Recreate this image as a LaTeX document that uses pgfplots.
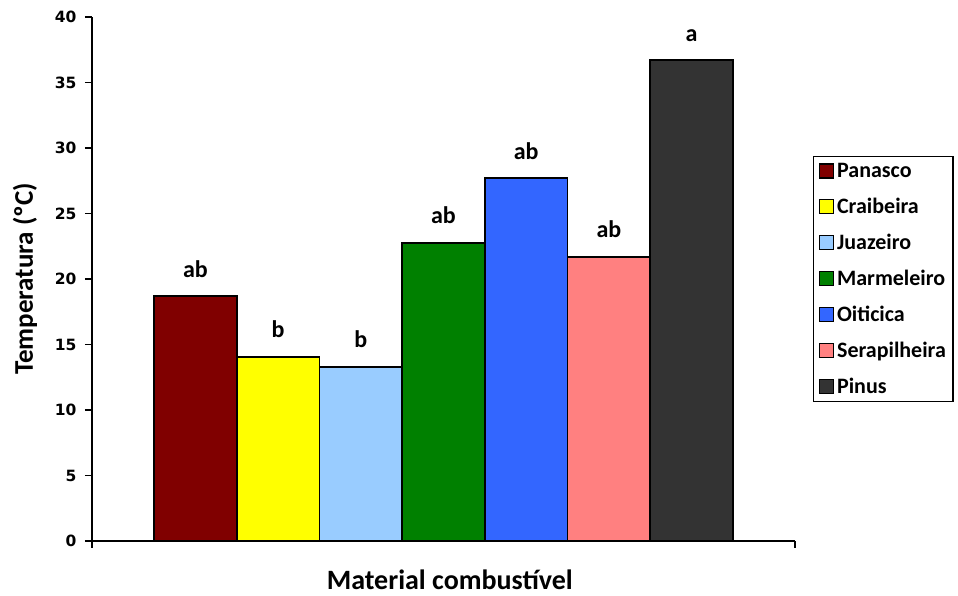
\documentclass[border=0pt]{standalone}
\usepackage{pgfplots}
\pgfplotsset{compat=1.18}
\usepackage{fontspec}
\setmainfont{Carlito}
\newfontfamily\tickfont{DejaVu Sans}
\definecolor{cPan}{HTML}{800000}
\definecolor{cCra}{HTML}{FFFF00}
\definecolor{cJua}{HTML}{99CCFF}
\definecolor{cMar}{HTML}{008000}
\definecolor{cOit}{HTML}{3366FF}
\definecolor{cSer}{HTML}{FF8080}
\definecolor{cPin}{HTML}{333333}
\begin{document}
\begin{tikzpicture}
\begin{axis}[
  scale only axis,
  width=703pt, height=524pt,
  xmin=-0.25, xmax=8.25,
  ymin=0, ymax=40,
  ytick={0,5,...,40},
  xtick={-0.25,8.25},
  xticklabels={},
  axis lines*=left,
  axis line style={line width=1.8pt},
  tick style={line width=1.8pt, black},
  tick align=outside,
  major tick length=7pt,
  /pgf/number format/assume math mode=true,
  yticklabel={\pgfmathprintnumber{\tick}},
  yticklabel style={font=\tickfont\bfseries\fontsize{15.5}{18}\selectfont, xshift=-5pt},
  ylabel={Temperatura (ºC)},
  ylabel style={at={(axis description cs:-0.0953,0.5)}, anchor=center, font=\fontsize{27}{30}\selectfont\bfseries},
  xlabel={Material combustível},
  xlabel style={at={(axis description cs:0.509,0)}, anchor=center, yshift=-39pt, font=\fontsize{28}{30}\selectfont\bfseries},
  clip=false,
  ybar,
  bar width=1,
  every axis plot/.append style={draw=black, line width=1.8pt, bar shift=0pt},
  nodes near coords style={font=\fontsize{24}{26}\selectfont\bfseries, anchor=base, yshift=19pt, text=black},
  legend style={at={(1,0.5)}, anchor=west, xshift=18pt, draw=black, line width=1.4pt,
    font=\fontsize{22}{26}\selectfont\bfseries, inner xsep=5pt, inner ysep=5pt,
    row sep=15pt, cells={anchor=west},
    /tikz/every odd column/.append style={column sep=1pt}},
  legend image code/.code={\draw[#1, line width=1.4pt] (0pt,-7pt) rectangle (14pt,7pt);},
]
\addplot[fill=cPan, bar shift=0pt, nodes near coords={ab}] coordinates {(1,18.7)};
\addplot[fill=cCra, bar shift=0pt, nodes near coords={b}] coordinates {(2,14.05)};
\addplot[fill=cJua, bar shift=0pt, nodes near coords={b}] coordinates {(3,13.3)};
\addplot[fill=cMar, bar shift=0pt, nodes near coords={ab}] coordinates {(4,22.75)};
\addplot[fill=cOit, bar shift=0pt, nodes near coords={ab}] coordinates {(5,27.7)};
\addplot[fill=cSer, bar shift=0pt, nodes near coords={ab}] coordinates {(6,21.7)};
\addplot[fill=cPin, bar shift=0pt, nodes near coords={a}] coordinates {(7,36.7)};
\legend{Panasco,Craibeira,Juazeiro,Marmeleiro,Oiticica,Serapilheira,Pinus}
\end{axis}
\path ([shift={(-92pt,-55pt)}]current axis.south west) rectangle ([shift={(163pt,17pt)}]current axis.north east);
\end{tikzpicture}
\end{document}
